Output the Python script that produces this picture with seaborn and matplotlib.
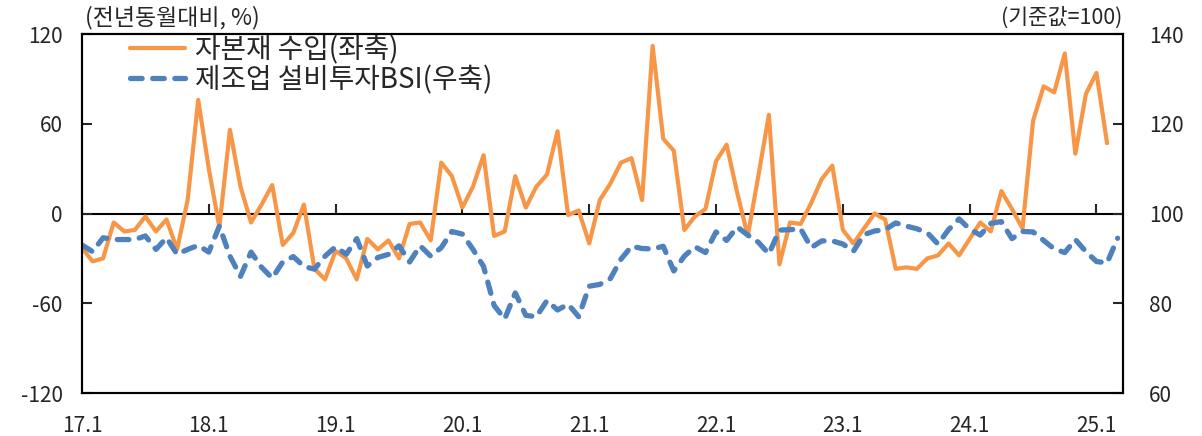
import matplotlib
matplotlib.use("Agg")
import matplotlib.pyplot as plt
import seaborn as sns
import pandas as pd

# 월별 데이터 (17.1부터)
tick_labels = ["17.1", "18.1", "19.1", "20.1", "21.1", "22.1", "23.1", "24.1", "25.1"]

# 자본재 수입 (전년동월대비, %) - 17.1 ~ 25.2
capital_imports = [
    -23, -32, -30, -6, -12, -11, -2, -12, -4, -24, 9, 76,
    30, -9, 56, 18, -6, 6, 19, -21, -13, 6, -37, -44,
    -25, -30, -44, -17, -24, -18, -30, -7, -6, -18, 34, 25,
    4, 18, 39, -15, -12, 25, 4, 18, 26, 55, -1, 2,
    -20, 9, 20, 34, 37, 9, 112, 50, 42, -11, -2, 3,
    35, 46, 14, -15, 25, 66, -34, -6, -7, 7, 23, 32,
    -11, -20, -10, 0, -4, -37, -36, -37, -30, -28, -20, -28,
    -17, -6, -12, 15, 3, -10, 62, 85, 81, 107, 40, 80,
    94, 47,
]

# 제조업 설비투자 BSI (기준값=100) - 17.1 ~ 25.3
bsi = [
    93, 91.5, 94.6, 94.2, 94.2, 94.2, 95, 92, 94.6, 90.9, 92, 92.9,
    91.4, 97.2, 90.5, 86, 91.4, 88, 85.6, 89.2, 90.4, 88.2, 87.6, 90.5,
    92.6, 90.9, 94.4, 88.3, 90.2, 90.9, 92.8, 89.2, 92.8, 90.5, 92.4, 96,
    95.4, 92, 88.2, 79.5, 76.5, 82.3, 77.3, 77, 80.6, 78.5, 79.8, 77,
    83.8, 84.2, 85.5, 89.8, 92.7, 92.2, 92.1, 92.7, 87.2, 90.5, 92.6, 91.3,
    95.9, 94, 97, 95.2, 93.6, 91, 96.3, 96.4, 96.6, 92.4, 93.9, 93.9,
    93.2, 91.6, 95.3, 96.1, 96.4, 97.9, 97.2, 96.6, 95.7, 93.2, 96.4, 98.8,
    96.5, 95.2, 97.8, 98.2, 94.4, 96, 95.9, 94, 92.1, 91.3, 94.2, 91.5,
    89.3, 89, 94.5,
]

imports_df = pd.DataFrame({"month": range(len(capital_imports)), "value": capital_imports})
bsi_df = pd.DataFrame({"month": range(len(bsi)), "value": bsi})
tick_pos = list(range(0, 12 * len(tick_labels), 12))

sns.set_style("white")
plt.rcParams["font.family"] = ["Noto Sans CJK KR", "DejaVu Sans"]
plt.rcParams["axes.unicode_minus"] = False
num_font = ["Liberation Sans Narrow", "Noto Sans CJK KR", "DejaVu Sans"]

fig = plt.figure(figsize=(12.02, 4.36), dpi=100)
ax = fig.add_axes([0.0682, 0.0986, 0.866, 0.8234])
ax2 = ax.twinx()

sns.lineplot(data=imports_df, x="month", y="value", ax=ax, color="#F79646",
             linewidth=3, errorbar=None, legend=False, label="자본재 수입(좌축)",
             solid_capstyle="round")
sns.lineplot(data=bsi_df, x="month", y="value", ax=ax2, color="#4F81BD",
             linewidth=3.8, errorbar=None, legend=False, label="제조업 설비투자BSI(우축)",
             linestyle=(0, (2.2, 2.0)), dash_capstyle="round")

ax.set_xlim(0, 98.5)
ax.set_ylim(-120, 120)
ax.set_yticks([-120, -60, 0, 60, 120])
ax2.set_ylim(60, 140)
ax2.set_yticks([60, 80, 100, 120, 140])
ax.set_xticks(tick_pos)
ax.set_xticklabels(tick_labels)
for a in (ax, ax2):
    a.set_xlabel("")
    a.set_ylabel("")
    for s in a.spines.values():
        s.set_color("black")
        s.set_linewidth(1.5)

ax.tick_params(axis="x", length=0, pad=16, labelsize=15)
ax.tick_params(axis="y", direction="in", length=7, width=1.5, pad=14, labelsize=15)
ax2.tick_params(axis="y", direction="in", length=7, width=1.5, pad=19, labelsize=15)
for lbl in ax.get_xticklabels() + ax.get_yticklabels() + ax2.get_yticklabels():
    lbl.set_fontfamily(num_font)

# 0선과 연도 눈금
zero = ax.secondary_xaxis(0.5)
zero.set_xticks(tick_pos)
zero.tick_params(axis="x", direction="out", length=7, width=1.5,
                 labeltop=False, labelbottom=False)
for s in zero.spines.values():
    s.set_color("black")
    s.set_linewidth(1.5)

h1, l1 = ax.get_legend_handles_labels()
h2, l2 = ax2.get_legend_handles_labels()
ax2.legend(h1 + h2, l1 + l2, loc="upper left", bbox_to_anchor=(0.046, 0.997),
           frameon=False, fontsize=20, handlelength=2.0, handletextpad=0.36,
           labelspacing=0.0, borderpad=0, borderaxespad=0)

fig.text(85 / 1202, 1 - 18 / 436, "(전년동월대비, %)", fontsize=16.5, ha="left", va="center")
fig.text(1122 / 1202, 1 - 18 / 436, "(기준값=100)", fontsize=15.5, ha="right", va="center")

fig.savefig("out.png", dpi=100)
